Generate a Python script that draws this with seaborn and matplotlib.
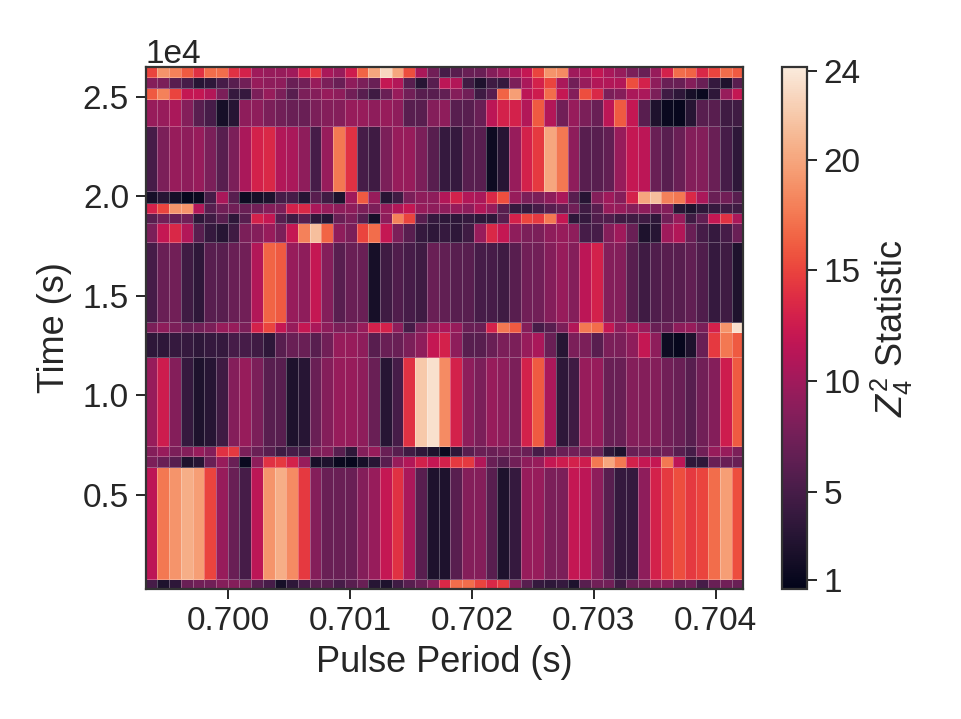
import numpy as np
import matplotlib
matplotlib.use("Agg")
import matplotlib.pyplot as plt
import seaborn as sns
from matplotlib.ticker import MultipleLocator, FormatStrFormatter

# Trial pulse periods (s) - centres of the search grid
trial_periods = np.linspace(0.69937, 0.70418, 51)

# Time-bin edges (s)
time_edges = [260, 760, 6420, 6960, 7460, 11920, 13210, 13710, 17730,
              18650, 19190, 19690, 20290, 23560, 24880, 25440, 25990, 26520]

# Z^2_4 values for each time bin (bottom -> top), one value per trial period
seg01 = [5, 2.5, 3.5, 7, 7.5, 7.5, 8.5, 8.5, 8, 6, 5, 2, 3.5, 5, 6, 6, 5,
         6, 7, 3, 2.5, 4.5, 6, 7, 8.5, 13.5, 17, 17, 15, 13.5, 14.5, 8.5, 6, 4,
         3.5, 4, 2.5, 6, 7.5, 7.5, 4.5, 7, 7.5, 8.5, 8.5, 7, 7.5, 5, 7, 7.5, 7]
seg02 = [11.5, 17.5, 19, 20.5, 19.5, 15, 9.5, 7, 5, 11.5, 19, 20.5, 18.5, 14.5, 8.5, 7, 7,
         7, 8.5, 9.5, 12, 14, 10.5, 6, 2.5, 2.5, 6, 8.5, 8.5, 6, 2.5, 4, 9.5, 9.5,
         8, 8, 12, 11.5, 9, 6, 4, 4, 9, 13, 14.5, 15.5, 14.5, 15, 17, 19.5, 15.5]
seg03 = [8, 7, 6, 2.5, 3, 7, 9.5, 7, 1.2, 9, 14, 14.5, 13, 9.5, 2, 2.5, 1.2,
         1, 2, 3, 6, 9.5, 11, 13, 12, 13, 14.5, 14.5, 11, 7, 6, 7.5, 9, 9.5,
         12, 12.5, 13, 12.5, 17.5, 20, 17.5, 13, 12, 12, 17.5, 11.5, 3.5, 3.5, 7, 7, 7]
seg04 = [8.5, 9.5, 8, 8.5, 9.5, 8.5, 14, 14.5, 8, 7, 6, 4.5, 5, 4.5, 8, 8.5, 6,
         3.5, 8.5, 9.5, 7, 6, 4.5, 3.5, 2.5, 1.2, 3.5, 6, 7, 7, 7.5, 7.5, 7, 5,
         6, 7, 7.5, 7.5, 7, 3.5, 2.5, 7, 7.5, 7, 7.5, 6, 5, 7.5, 9.5, 9.5, 8]
seg05 = [9.5, 12.5, 8.5, 4, 2.5, 3, 4.5, 8.5, 9.5, 8, 6, 6, 2.5, 3, 7, 8.5, 9.5,
         9.5, 9, 7, 3, 5, 14, 22, 23.5, 18.5, 13, 9, 8, 9.5, 9, 8, 13, 16,
         10.5, 3.5, 4.5, 9.5, 9.5, 7, 7, 8.5, 8.5, 8.5, 7.5, 7, 6, 7.5, 8.5, 12.5, 16]
seg06 = [3.5, 3.5, 4, 4, 3.5, 4, 4, 5, 5, 4.5, 3.5, 6, 7, 7, 6, 7.5, 9.5,
         9.5, 9, 6, 7, 7, 8, 9, 12, 13, 9, 6, 6, 7, 8, 8, 9.5, 10.5,
         7, 3, 8, 8, 6, 8, 8, 9, 12, 9, 1.5, 1, 2.5, 7, 14.5, 17.5, 16]
seg07 = [8, 9, 8, 7, 7.5, 8, 9.5, 9.5, 8, 13, 15, 12, 9.5, 12, 10.5, 9, 8,
         8, 9.5, 13, 13, 9, 5, 8, 9.5, 10.5, 9.5, 7, 7, 13, 17.5, 16, 8.5, 5,
         6, 8, 11, 17.5, 17, 12, 9, 10.5, 9.5, 7, 7, 9, 9.5, 8, 13, 19, 23.5]
seg08 = [5, 7, 7.5, 4.5, 3.5, 6, 6, 7, 7.5, 11, 16.5, 16, 9.5, 9, 12, 8.5, 6,
         7, 7, 2, 4.5, 5.5, 5, 4.5, 7, 6.5, 6, 6, 5, 5, 4.5, 6, 7.5, 7.5,
         8.5, 9.5, 8.5, 11.5, 13, 8.5, 8.5, 6, 4.5, 5.5, 6, 6, 6.5, 5.5, 4, 4.5, 2.5]
seg09 = [8, 12, 13.5, 11, 6, 4, 3, 4.5, 8, 8.5, 9.5, 8, 12, 18, 21.5, 16.5, 9,
         8, 15, 17, 12, 8, 6, 4, 3.5, 4, 3.5, 4.5, 9.5, 13.5, 12, 9, 8, 8,
         9, 9.5, 9, 5, 5, 8.5, 10, 7, 2.5, 3, 10, 11, 7, 5, 4, 5, 7]
seg10 = [6, 7.5, 7, 7.5, 3.5, 4.5, 6, 3.5, 6, 13, 12, 6, 4.5, 6, 3.5, 3, 7,
         8, 6, 2, 9, 18, 15, 6, 4, 3.5, 3.5, 4, 3.5, 3.5, 6, 13, 15, 14.5,
         17.5, 12, 3.5, 4, 5.5, 5.5, 4.5, 4.5, 4.5, 3.5, 7.5, 9.5, 4.5, 6.5, 12, 14, 10.5]
seg11 = [13, 15, 19, 19, 11, 6, 7.5, 7.5, 7, 7.5, 8.5, 8, 13, 13.5, 10.5, 9.5, 9,
         9, 8, 8, 9.5, 11, 12, 9.5, 9, 9, 9.5, 9, 11, 9.5, 6, 4, 4, 5,
         6, 6.5, 7.5, 4.5, 6, 9.5, 9.5, 8.5, 9, 8, 8.5, 3, 2.5, 3.5, 4, 4.5, 4.5]
seg12 = [2, 3, 2, 1, 1.2, 5, 10.5, 6, 1.5, 2, 2.5, 5, 5, 3, 6, 4.5, 2.5,
         10, 16, 9.5, 3, 4.5, 8, 9, 9, 11, 13, 11, 10.5, 13.5, 15.5, 9.5, 8, 8,
         9, 10.5, 6, 3, 8.5, 10, 8.5, 13, 20, 21.5, 18, 17.5, 13.5, 10.5, 7, 7.5, 6]
seg13 = [5, 8, 9.5, 9, 9.5, 8, 6, 8, 10.5, 13, 13.5, 11, 10.5, 9, 5, 9.5, 17.5,
         14, 5, 4.5, 8, 9.5, 9.5, 8, 6, 4, 4, 6, 6, 1.5, 3, 9.5, 13, 14.5,
         20, 17.5, 9, 6, 6, 6.5, 9.5, 12, 11.5, 7, 6, 7, 8.5, 8.5, 7, 5, 3.5]
seg14 = [9.5, 9.5, 10.5, 8.5, 6, 5, 2, 3, 9, 9, 8, 7.5, 7, 7, 8, 8.5, 8.5,
         9.5, 9.5, 9, 9.5, 9, 6, 6, 8.5, 9, 6, 6, 7, 11.5, 13, 13, 11, 16,
         11, 7.5, 9.5, 8, 7, 11.5, 16, 12, 6, 2.5, 1.2, 1, 3, 6, 6, 4.5, 4.5]
seg15 = [16, 18, 15, 12, 12, 11, 8, 4, 4, 8, 9.5, 8, 6, 8, 8.5, 9.5, 9,
         7.5, 6, 4.5, 7, 9.5, 7.5, 6, 6, 6.5, 8.5, 7.5, 4.5, 6, 16.5, 19.5, 11.5, 12.5,
         17, 12, 8.5, 15.5, 13.5, 8, 8.5, 10.5, 10.5, 8, 4.5, 3.5, 2, 1.2, 3.5, 9.5, 12]
seg16 = [8.5, 8, 6, 5, 3, 3.5, 5, 6, 7.5, 9.5, 9, 9, 7, 7.5, 9.5, 8, 7,
         9, 8, 7, 12, 11, 6, 3, 6, 11.5, 11, 4.5, 2.5, 4.5, 4, 8, 10.5, 13,
         15, 10.5, 7.5, 9.5, 11, 11, 11, 15.5, 13, 9, 7, 7, 8.5, 7, 4, 2.5, 6]
seg17 = [15, 19, 18, 16, 14, 17, 17, 14, 13, 10, 9.5, 9.5, 10, 13, 14.5, 10.5, 9.5,
         12.5, 16.5, 20, 23, 20, 15.5, 10.5, 7.5, 5, 6, 7, 7, 8.5, 9.5, 10.5, 12, 15,
         19, 18.5, 10, 10.5, 12, 10.5, 9.5, 8, 7, 9.5, 13, 17, 16.5, 13.5, 15, 17, 16]

cbar_ticks = [1, 5, 10, 15, 20, 24]

sns.set_theme(style="ticks")
plt.rcParams['font.family'] = ['Liberation Sans', 'DejaVu Sans']
plt.rcParams['mathtext.fontset'] = 'custom'
plt.rcParams['mathtext.it'] = 'Liberation Sans:italic'
plt.rcParams['mathtext.rm'] = 'Liberation Sans'

fig = plt.figure(figsize=(9.61, 7.19), dpi=100)
ax = fig.add_axes([0.1516, 0.1804, 0.6219, 0.7268])
cax = fig.add_axes([0.8134, 0.1804, 0.026, 0.7268])

step = trial_periods[1] - trial_periods[0]
period_edges = np.append(trial_periods - step / 2, trial_periods[-1] + step / 2)
Z = np.array([seg01, seg02, seg03, seg04, seg05, seg06, seg07, seg08, seg09,
              seg10, seg11, seg12, seg13, seg14, seg15, seg16, seg17])

cmap = sns.color_palette("rocket", as_cmap=True)
mesh = ax.pcolormesh(period_edges, time_edges, Z, cmap=cmap, vmin=0.6, vmax=24.2,
                     edgecolors=(1, 1, 1, 0.28), linewidth=0.5)

ax.set_xlim(period_edges[0], period_edges[-1])
ax.set_ylim(time_edges[0], time_edges[-1])
ax.xaxis.set_major_locator(MultipleLocator(0.001))
ax.xaxis.set_major_formatter(FormatStrFormatter('%.3f'))
ax.ticklabel_format(axis='y', style='sci', scilimits=(0, 0))
ax.yaxis.get_offset_text().set_fontsize(24)

ax.set_xlabel('Pulse Period (s)', fontsize=26, labelpad=6)
ax.set_ylabel('Time (s)', fontsize=26, labelpad=8)
ax.tick_params(axis='both', labelsize=24, length=7, width=1.4, pad=5, color='.15')
for sp in ax.spines.values():
    sp.set_linewidth(1.6)
    sp.set_color('.2')

cb = fig.colorbar(mesh, cax=cax, ticks=cbar_ticks)
cb.set_label(r'$Z_4^2$ Statistic', fontsize=26, labelpad=6)
cb.ax.tick_params(labelsize=24, length=7, width=1.4, pad=5)
cb.outline.set_linewidth(1.6)
cb.outline.set_edgecolor('.2')

fig.savefig('out.png', dpi=100)
